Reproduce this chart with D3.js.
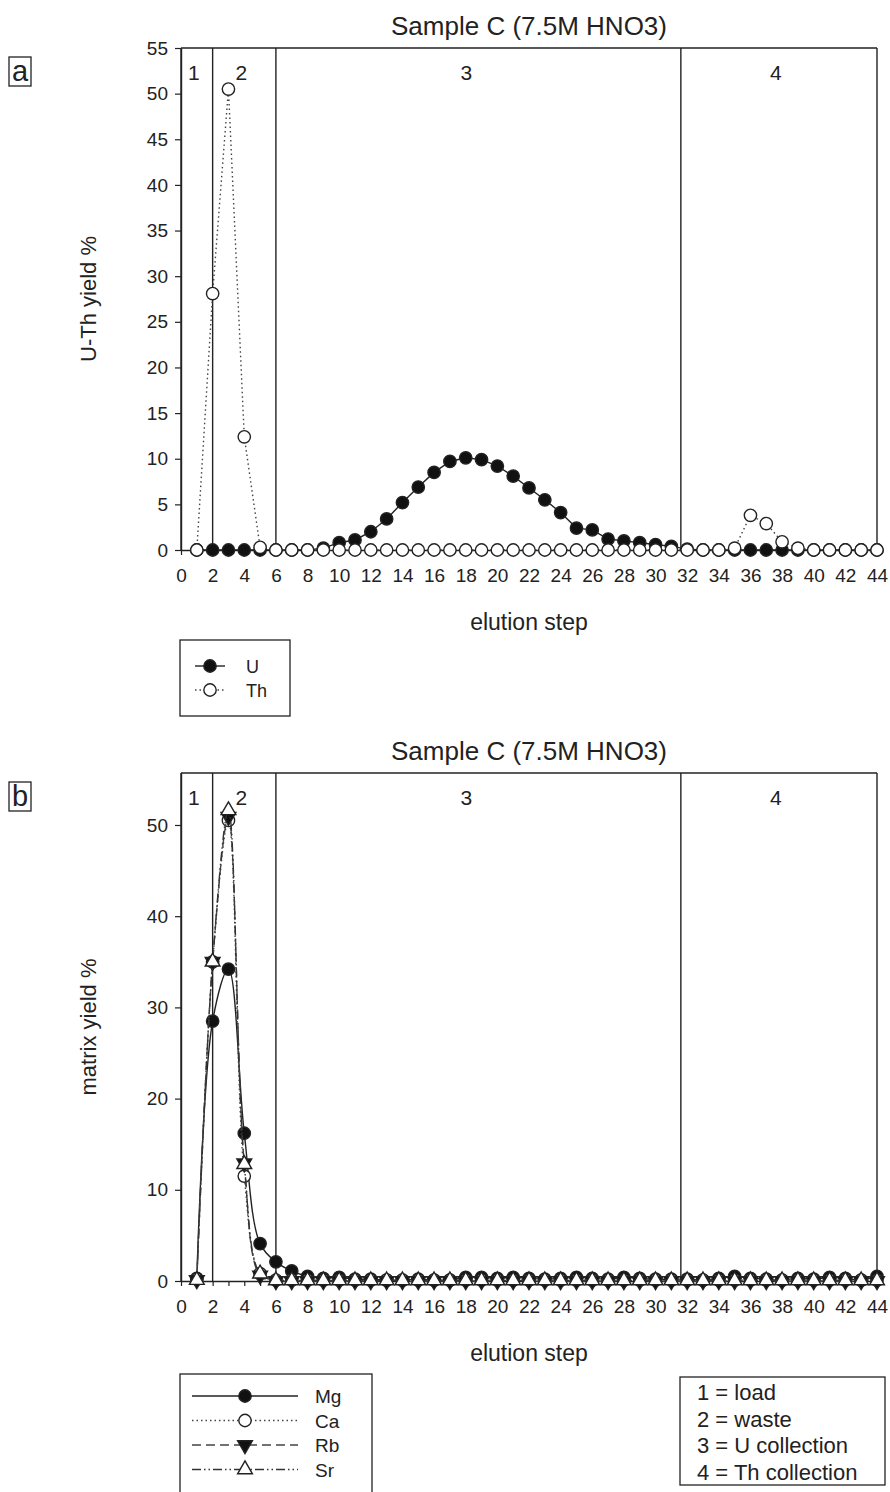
<!DOCTYPE html>
<html>
<head>
<meta charset="utf-8">
<script src="https://cdnjs.cloudflare.com/ajax/libs/d3/7.8.5/d3.min.js"></script>
<style>
  body { margin: 0; background: #fff; }
  text { font-family: "Liberation Sans", Arial, sans-serif; fill: #222; }
</style>
</head>
<body>
<svg id="chart" width="890" height="1492"></svg>
<script>
// elution steps 1..44
var steps = d3.range(1, 45)

// panel a: U-Th yield %
var uYield  = [0, 0, 0, 0, 0, 0, 0, 0, 0.2, 0.8, 1.1, 2.0, 3.4, 5.2, 6.9, 8.5, 9.7, 10.1, 9.9, 9.2, 8.1, 6.8,
               5.5, 4.1, 2.4, 2.2, 1.2, 1.0, 0.8, 0.6, 0.4, 0.1, 0, 0, 0, 0, 0, 0, 0, 0, 0, 0, 0, 0]
var thYield = [0, 28.1, 50.5, 12.4, 0.3, 0, 0, 0, 0, 0, 0, 0, 0, 0, 0, 0, 0, 0, 0, 0, 0, 0,
               0, 0, 0, 0, 0, 0, 0, 0, 0, 0, 0, 0, 0.2, 3.8, 2.9, 0.9, 0.2, 0, 0, 0, 0, 0]

// panel b: matrix yield %
var mgYield = [0.3, 28.5, 34.2, 16.2, 4.1, 2.1, 1.1, 0.5, 0.3, 0.4, 0.2, 0.2, 0.1, 0.1, 0.2, 0.1, 0.1, 0.4, 0.4, 0.3, 0.4, 0.3,
               0.2, 0.3, 0.4, 0.3, 0.2, 0.4, 0.3, 0.2, 0.2, 0.2, 0.1, 0.3, 0.5, 0.3, 0.2, 0.1, 0.3, 0.2, 0.4, 0.3, 0.1, 0.5]
var caYield = [0.2, 35.0, 50.5, 11.5, 0.8, 0.1, 0.1, 0.1, 0.1, 0.1, 0.1, 0.1, 0.1, 0.1, 0.1, 0.1, 0.1, 0.1, 0.1, 0.1, 0.1, 0.1,
               0.1, 0.1, 0.1, 0.1, 0.1, 0.1, 0.1, 0.1, 0.1, 0.1, 0.1, 0.1, 0.1, 0.1, 0.1, 0.1, 0.1, 0.1, 0.1, 0.1, 0.1, 0.1]
var rbYield = [0.1, 35.0, 50.9, 12.9, 0.6, 0, 0, 0, 0, 0, 0, 0, 0, 0, 0, 0, 0, 0, 0, 0, 0, 0,
               0, 0, 0, 0, 0, 0, 0, 0, 0, 0, 0, 0, 0, 0, 0, 0, 0, 0, 0, 0, 0, 0]
var srYield = [0.1, 35.0, 51.6, 12.8, 0.8, 0.05, 0.05, 0.05, 0.05, 0.05, 0.05, 0.05, 0.05, 0.05, 0.05, 0.05, 0.05, 0.05, 0.05, 0.05, 0.05, 0.05,
               0.05, 0.05, 0.05, 0.05, 0.05, 0.05, 0.05, 0.05, 0.05, 0.05, 0.05, 0.05, 0.05, 0.05, 0.05, 0.05, 0.05, 0.05, 0.05, 0.05, 0.05, 0.05]

var xTickValues = d3.range(0, 45)
var yTicksA = d3.range(0, 56, 5)
var yTicksB = d3.range(0, 51, 10)
var regionBounds = [0, 2, 6, 31.6, 44]
var regionNames = ['1', '2', '3', '4']
var regionKey = ['1 = load', '2 = waste', '3 = U collection', '4 = Th collection']
var chartTitle = 'Sample C (7.5M HNO3)'

;(function(){
  var svg = d3.select('#chart')
  var ink = '#222'

  var x = d3.scaleLinear().domain([0, 44]).range([181, 877])

  function symbolPath(kind) {
    var type = kind === 'circle' ? d3.symbolCircle : d3.symbolTriangle
    var size = kind === 'circle' ? 120 : 95
    return d3.symbol().type(type).size(size)()
  }

  function drawMarker(sel, s) {
    sel.attr('d', symbolPath(s.sym))
      .attr('fill', s.fill)
      .attr('stroke', ink).attr('stroke-width', 1.4)
  }

  function drawPanel(p) {
    var y = d3.scaleLinear().domain([0, p.yMax]).range([p.bottom, p.top])
    var g = svg.append('g')

    // title
    g.append('text').text(chartTitle)
      .attr('x', 529).attr('y', p.top - 13)
      .attr('text-anchor', 'middle').attr('font-size', '26px')

    // panel letter
    g.append('rect').attr('x', 9).attr('y', p.top + 9).attr('width', 22).attr('height', 29)
      .attr('fill', 'none').attr('stroke', ink).attr('stroke-width', 1.3)
    g.append('text').text(p.letter)
      .attr('x', 20).attr('y', p.top + 33)
      .attr('text-anchor', 'middle').attr('font-size', '29px')

    // region separators
    g.selectAll('.bound').data(regionBounds).enter().append('line')
      .attr('x1', d => x(d)).attr('x2', d => x(d))
      .attr('y1', y(0)).attr('y2', y(p.yMax))
      .attr('stroke', ink).attr('stroke-width', 1.4)
    g.append('line')
      .attr('x1', x(0)).attr('x2', x(44))
      .attr('y1', y(p.yMax)).attr('y2', y(p.yMax))
      .attr('stroke', ink).attr('stroke-width', 1.4)

    // region numbers, a little left of centre like the original
    g.selectAll('.region').data(regionNames).enter().append('text')
      .text(d => d)
      .attr('x', (d, i) => x((regionBounds[i] + regionBounds[i + 1]) / 2) - (i === 2 ? 12 : 3))
      .attr('y', y(p.yMax) + 32)
      .attr('text-anchor', 'middle').attr('font-size', '21px')

    // axes
    var yAxis = d3.axisLeft(y).tickValues(p.yTicks).tickSize(6).tickSizeOuter(0).tickPadding(7)
    var ya = g.append('g').attr('transform', 'translate(' + x(0) + ',0)').call(yAxis)
    var xAxis = d3.axisBottom(x).tickValues(xTickValues).tickSize(5).tickSizeOuter(0).tickPadding(14)
      .tickFormat(d => d % 2 ? '' : d)
    var xa = g.append('g').attr('transform', 'translate(0,' + y(0) + ')').call(xAxis)
    ;[ya, xa].forEach(function(a) {
      a.select('.domain').attr('stroke', ink).attr('stroke-width', 1.4)
      a.selectAll('.tick line').attr('stroke', ink).attr('stroke-width', 1.2)
      a.selectAll('.tick text').attr('font-size', '19px')
        .attr('font-family', '"Liberation Sans", Arial, sans-serif').attr('fill', ink)
    })

    g.append('text').text('elution step')
      .attr('x', 529).attr('y', y(0) + 80)
      .attr('text-anchor', 'middle').attr('font-size', '23px')
    g.append('text').text(p.yLabel)
      .attr('transform', 'translate(96,' + ((y(0) + y(p.yMax)) / 2) + ') rotate(-90)')
      .attr('text-anchor', 'middle').attr('font-size', '22px')

    // series
    p.series.forEach(function(s) {
      var line = d3.line()
        .x((d, i) => x(steps[i]))
        .y(d => y(d))
        .curve(p.curve)
      g.append('path').attr('d', line(s.values))
        .attr('fill', 'none').attr('stroke', s.stroke)
        .attr('stroke-width', 1.4)
        .attr('stroke-dasharray', s.dash)
      g.append('g').selectAll('path').data(s.values).enter().append('path')
        .call(drawMarker, s)
        .attr('transform', (d, i) => 'translate(' + x(steps[i]) + ',' + y(d) + ')' +
          (s.sym === 'down' ? ' rotate(180)' : ''))
    })

    // legend
    var lg = p.legend
    g.append('rect').attr('x', lg.x).attr('y', lg.y).attr('width', lg.w).attr('height', lg.h)
      .attr('fill', '#fff').attr('stroke', ink).attr('stroke-width', 1.3)
    p.series.forEach(function(s, i) {
      var ry = lg.y + lg.first + i * lg.gap
      g.append('line').attr('x1', lg.x + lg.l0).attr('x2', lg.x + lg.l1)
        .attr('y1', ry).attr('y2', ry)
        .attr('stroke', s.stroke).attr('stroke-width', 1.4)
        .attr('stroke-dasharray', s.dash)
      g.append('path').call(drawMarker, s)
        .attr('transform', 'translate(' + (lg.x + (lg.l0 + lg.l1) / 2) + ',' + ry + ')' +
          (s.sym === 'down' ? ' rotate(180)' : ''))
      g.append('text').text(s.name)
        .attr('x', lg.x + lg.tx).attr('y', ry + 7)
        .attr('font-size', lg.font)
    })
  }

  drawPanel({
    letter: 'a', top: 48, bottom: 550, yMax: 55, yTicks: yTicksA,
    yLabel: 'U-Th yield %', curve: d3.curveLinear,
    series: [
      { name: 'U',  values: uYield,  sym: 'circle', fill: '#111', stroke: ink,    dash: null },
      { name: 'Th', values: thYield, sym: 'circle', fill: '#fff', stroke: '#444', dash: '1.5,3' }
    ],
    legend: { x: 180, y: 640, w: 110, h: 76, first: 26, gap: 24, l0: 15, l1: 45, tx: 66, font: '18px' }
  })

  drawPanel({
    letter: 'b', top: 773, bottom: 1281, yMax: 55.7, yTicks: yTicksB,
    yLabel: 'matrix yield %', curve: d3.curveCatmullRom,
    series: [
      { name: 'Mg', values: mgYield, sym: 'circle', fill: '#111', stroke: ink,    dash: null },
      { name: 'Ca', values: caYield, sym: 'circle', fill: '#fff', stroke: '#444', dash: '1.5,3' },
      { name: 'Rb', values: rbYield, sym: 'down',   fill: '#111', stroke: '#444', dash: '9,5' },
      { name: 'Sr', values: srYield, sym: 'up',     fill: '#fff', stroke: '#333', dash: '9,3,1.5,3,1.5,3' }
    ],
    legend: { x: 180, y: 1374, w: 192, h: 130, first: 22, gap: 24.5, l0: 12, l1: 118, tx: 135, font: '19px' }
  })

  // region key
  svg.append('rect').attr('x', 680).attr('y', 1377).attr('width', 205).attr('height', 108)
    .attr('fill', '#fff').attr('stroke', ink).attr('stroke-width', 1.3)
  svg.append('g').selectAll('text').data(regionKey).enter().append('text')
    .text(d => d)
    .attr('x', 697).attr('y', (d, i) => 1400 + i * 26.5)
    .attr('font-size', '22px')
})()
</script>
</body>
</html>
